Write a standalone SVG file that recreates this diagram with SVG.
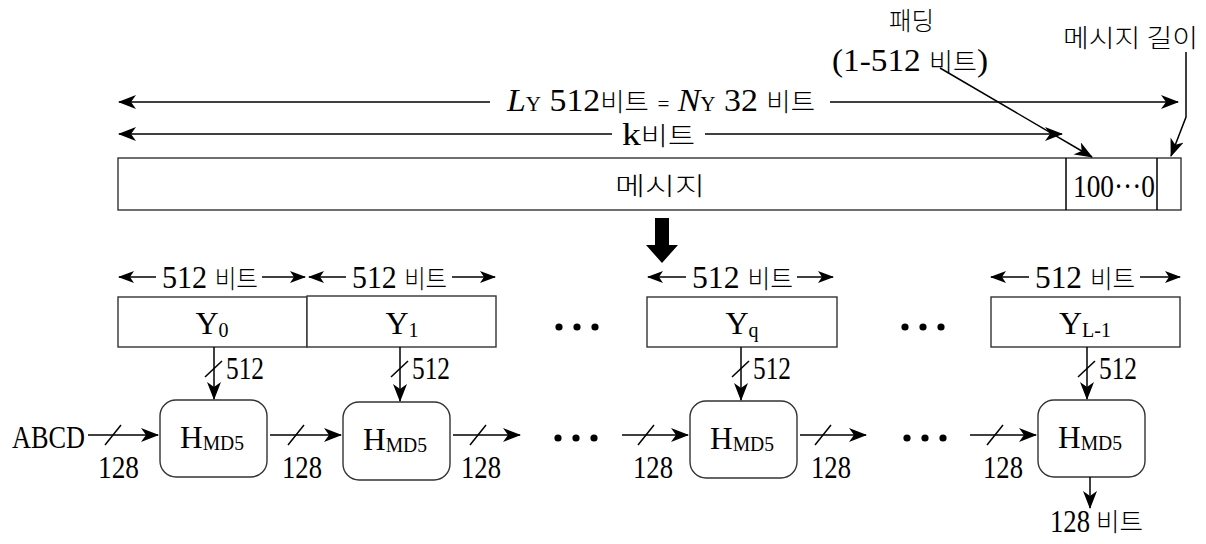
<svg xmlns="http://www.w3.org/2000/svg" width="1206" height="544" viewBox="0 0 1206 544">
  <style>
    .t { font-family: "Liberation Serif", "Noto Sans CJK KR", serif; font-size: 32px; fill: #000; }
    .h { font-family: "Noto Sans CJK KR", sans-serif; font-size: 25px; font-weight: 300; }
    .sub { font-size: 20px; }
    .it { font-style: italic; }
    .box { fill: #fff; stroke: #333; stroke-width: 1.4; }
    .ln { fill: none; stroke: #000; stroke-width: 1.5; }
    .dot { fill: #000; }
  </style>
  <defs>
    <marker id="ah" viewBox="0 0 18 14" refX="17" refY="7" markerWidth="18" markerHeight="14" markerUnits="userSpaceOnUse" orient="auto-start-reverse">
      <path d="M0,0 L18,7 L0,14 L5,7 z" fill="#000"/>
    </marker>
    <marker id="ahs" viewBox="0 0 16 12" refX="15" refY="6" markerWidth="16" markerHeight="12" markerUnits="userSpaceOnUse" orient="auto-start-reverse">
      <path d="M0,0 L16,6 L0,12 L4,6 z" fill="#000"/>
    </marker>
  </defs>

  <!-- message layout with padding and length field -->
  <g id="message">
    <rect class="box" x="118" y="158" width="1063" height="52"/>
    <line class="ln" x1="1066" y1="158" x2="1066" y2="210" stroke-width="1.3"/>
    <line class="ln" x1="1157" y1="158" x2="1157" y2="210" stroke-width="1.3"/>
    <text class="t h" x="615" y="195" textLength="90" lengthAdjust="spacingAndGlyphs" font-size="26">메시지</text>
    <text class="t" x="1073" y="197" textLength="82" lengthAdjust="spacingAndGlyphs">100···0</text>
  </g>

  <g id="padding-label">
    <text class="t h" x="889" y="30" textLength="45" lengthAdjust="spacingAndGlyphs">패딩</text>
    <text class="t" x="832" y="71" textLength="156" lengthAdjust="spacingAndGlyphs">(1-512 <tspan class="h">비트</tspan>)</text>
  </g>

  <g id="length-label">
    <text class="t h" x="1063" y="47" textLength="135" lengthAdjust="spacingAndGlyphs">메시지 길이</text>
  </g>

  <g id="total-length">
    <text class="t" x="507" y="111" font-size="30" textLength="308" lengthAdjust="spacingAndGlyphs"><tspan class="it">L</tspan><tspan class="sub">Y</tspan> 512<tspan class="h">비트</tspan> <tspan class="sub">=</tspan> <tspan class="it">N</tspan><tspan class="sub">Y</tspan> 32 <tspan class="h">비트</tspan></text>
  </g>

  <g id="k-bits">
    <text class="t" x="622" y="145" font-size="30" textLength="73" lengthAdjust="spacingAndGlyphs">k<tspan class="h">비트</tspan></text>
  </g>

  <!-- split into 512-bit blocks -->
  <g id="split-arrow">
    <polygon points="655,218 669,218 669,245 678,245 662,263 646,245 655,245" fill="#000"/>
  </g>

  <g id="block-Y0">
    <rect class="box" x="118" y="297" width="189" height="50"/>
    <text class="t" x="212" y="334" text-anchor="middle">Y<tspan class="sub" dy="3">0</tspan></text>
    <text class="t" x="162" y="288" textLength="96" lengthAdjust="spacingAndGlyphs">512 <tspan class="h">비트</tspan></text>
  </g>
  <g id="block-Y1">
    <rect class="box" x="307" y="296" width="189" height="51"/>
    <text class="t" x="402" y="334" text-anchor="middle">Y<tspan class="sub" dy="3">1</tspan></text>
    <text class="t" x="352" y="288" textLength="95" lengthAdjust="spacingAndGlyphs">512 <tspan class="h">비트</tspan></text>
  </g>
  <g id="block-Yq">
    <rect class="box" x="647" y="297" width="190" height="50"/>
    <text class="t" x="742" y="334" text-anchor="middle">Y<tspan class="sub" dy="3">q</tspan></text>
    <text class="t" x="692" y="288" textLength="101" lengthAdjust="spacingAndGlyphs">512 <tspan class="h">비트</tspan></text>
  </g>
  <g id="block-YL-1">
    <rect class="box" x="991" y="297" width="189" height="50"/>
    <text class="t" x="1085" y="334" text-anchor="middle">Y<tspan class="sub" dy="3">L-1</tspan></text>
    <text class="t" x="1035" y="288" textLength="100" lengthAdjust="spacingAndGlyphs">512 <tspan class="h">비트</tspan></text>
  </g>

  <g id="dots-blocks">
    <circle class="dot" cx="559" cy="327" r="3.6"/>
    <circle class="dot" cx="577" cy="327" r="3.6"/>
    <circle class="dot" cx="595" cy="327" r="3.6"/>
    <circle class="dot" cx="905" cy="327" r="3.6"/>
    <circle class="dot" cx="923" cy="327" r="3.6"/>
    <circle class="dot" cx="941" cy="327" r="3.6"/>
  </g>

  <!-- compression stages -->
  <g id="input-ABCD">
    <text class="t" x="12" y="448" textLength="73" lengthAdjust="spacingAndGlyphs" font-size="34">ABCD</text>
  </g>
  <g id="H1">
    <rect class="box" x="160" y="400" width="107" height="77" rx="16"/>
    <text class="t" x="180" y="448" textLength="64" lengthAdjust="spacingAndGlyphs" font-size="34">H<tspan class="sub" dy="2">MD5</tspan></text>
  </g>
  <g id="H2">
    <rect class="box" x="343" y="402" width="107" height="78" rx="16"/>
    <text class="t" x="363" y="450" textLength="64" lengthAdjust="spacingAndGlyphs" font-size="34">H<tspan class="sub" dy="2">MD5</tspan></text>
  </g>
  <g id="H3">
    <rect class="box" x="690" y="401" width="107" height="77" rx="16"/>
    <text class="t" x="710" y="449" textLength="64" lengthAdjust="spacingAndGlyphs" font-size="34">H<tspan class="sub" dy="2">MD5</tspan></text>
  </g>
  <g id="H4">
    <rect class="box" x="1038" y="400" width="107" height="77" rx="16"/>
    <text class="t" x="1058" y="448" textLength="64" lengthAdjust="spacingAndGlyphs" font-size="34">H<tspan class="sub" dy="2">MD5</tspan></text>
  </g>

  <g id="dots-stages">
    <circle class="dot" cx="558" cy="438" r="3.6"/>
    <circle class="dot" cx="576" cy="438" r="3.6"/>
    <circle class="dot" cx="594" cy="438" r="3.6"/>
    <circle class="dot" cx="907" cy="438" r="3.6"/>
    <circle class="dot" cx="925" cy="438" r="3.6"/>
    <circle class="dot" cx="943" cy="438" r="3.6"/>
  </g>

  <g id="bus-labels">
    <text class="t" x="98" y="478" textLength="41" lengthAdjust="spacingAndGlyphs">128</text>
    <text class="t" x="282" y="478" textLength="40" lengthAdjust="spacingAndGlyphs">128</text>
    <text class="t" x="461" y="478" textLength="40" lengthAdjust="spacingAndGlyphs">128</text>
    <text class="t" x="633" y="478" textLength="40" lengthAdjust="spacingAndGlyphs">128</text>
    <text class="t" x="811" y="478" textLength="40" lengthAdjust="spacingAndGlyphs">128</text>
    <text class="t" x="983" y="478" textLength="40" lengthAdjust="spacingAndGlyphs">128</text>
    <text class="t" x="226" y="379" textLength="38" lengthAdjust="spacingAndGlyphs">512</text>
    <text class="t" x="412" y="379" textLength="38" lengthAdjust="spacingAndGlyphs">512</text>
    <text class="t" x="753" y="379" textLength="38" lengthAdjust="spacingAndGlyphs">512</text>
    <text class="t" x="1099" y="379" textLength="38" lengthAdjust="spacingAndGlyphs">512</text>
  </g>

  <g id="output">
    <text class="t" x="1050" y="532" font-size="30" textLength="40" lengthAdjust="spacingAndGlyphs">128</text>
    <text class="t h" x="1096" y="531" textLength="47" lengthAdjust="spacingAndGlyphs">비트</text>
  </g>

  <g id="connectors">
    <!-- total length and k-bit spans -->
    <line class="ln" x1="119" y1="102" x2="490" y2="102" marker-start="url(#ah)"/>
    <line class="ln" x1="830" y1="102" x2="1178" y2="102" marker-end="url(#ah)"/>
    <line class="ln" x1="119" y1="134" x2="612" y2="134" marker-start="url(#ah)"/>
    <line class="ln" x1="705" y1="134" x2="1062" y2="134" marker-end="url(#ah)"/>
    <!-- callouts -->
    <line class="ln" x1="940" y1="68" x2="1092" y2="157" marker-end="url(#ah)"/>
    <polyline class="ln" points="1186,52 1186,117 1171,156" marker-end="url(#ah)"/>
    <!-- block width marks -->
    <line class="ln" x1="119" y1="277" x2="156" y2="277" marker-start="url(#ahs)"/>
    <line class="ln" x1="262" y1="277" x2="305" y2="277" marker-end="url(#ahs)"/>
    <line class="ln" x1="309" y1="277" x2="346" y2="277" marker-start="url(#ahs)"/>
    <line class="ln" x1="452" y1="277" x2="495" y2="277" marker-end="url(#ahs)"/>
    <line class="ln" x1="648" y1="277" x2="686" y2="277" marker-start="url(#ahs)"/>
    <line class="ln" x1="797" y1="277" x2="833" y2="277" marker-end="url(#ahs)"/>
    <line class="ln" x1="991" y1="277" x2="1029" y2="277" marker-start="url(#ahs)"/>
    <line class="ln" x1="1140" y1="277" x2="1180" y2="277" marker-end="url(#ahs)"/>
    <!-- block inputs -->
    <line class="ln" x1="214" y1="347" x2="214" y2="399" marker-end="url(#ah)"/>
    <line class="ln" x1="205" y1="377" x2="222" y2="361"/>
    <line class="ln" x1="400" y1="347" x2="400" y2="401" marker-end="url(#ah)"/>
    <line class="ln" x1="391" y1="377" x2="408" y2="361"/>
    <line class="ln" x1="741" y1="347" x2="741" y2="400" marker-end="url(#ah)"/>
    <line class="ln" x1="732" y1="377" x2="749" y2="361"/>
    <line class="ln" x1="1087" y1="347" x2="1087" y2="399" marker-end="url(#ah)"/>
    <line class="ln" x1="1078" y1="377" x2="1095" y2="361"/>
    <!-- chaining values -->
    <line class="ln" x1="88" y1="435" x2="158" y2="435" marker-end="url(#ah)"/>
    <line class="ln" x1="105" y1="445" x2="121" y2="425"/>
    <line class="ln" x1="270" y1="435" x2="341" y2="435" marker-end="url(#ah)"/>
    <line class="ln" x1="288" y1="445" x2="304" y2="425"/>
    <line class="ln" x1="453" y1="435" x2="520" y2="435" marker-end="url(#ah)"/>
    <line class="ln" x1="470" y1="445" x2="486" y2="425"/>
    <line class="ln" x1="622" y1="435" x2="688" y2="435" marker-end="url(#ah)"/>
    <line class="ln" x1="638" y1="445" x2="654" y2="425"/>
    <line class="ln" x1="800" y1="435" x2="866" y2="435" marker-end="url(#ah)"/>
    <line class="ln" x1="815" y1="445" x2="831" y2="425"/>
    <line class="ln" x1="970" y1="435" x2="1036" y2="435" marker-end="url(#ah)"/>
    <line class="ln" x1="987" y1="445" x2="1003" y2="425"/>
    <!-- digest out -->
    <line class="ln" x1="1090" y1="477" x2="1090" y2="508" marker-end="url(#ah)"/>
  </g>
</svg>
